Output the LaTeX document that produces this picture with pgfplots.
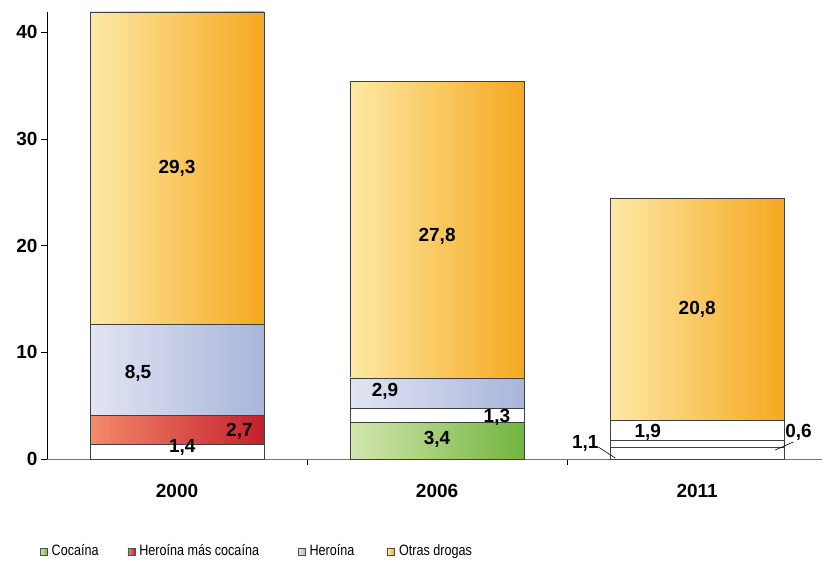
\documentclass[border=0pt]{standalone}
\usepackage{fontspec}
\setmainfont{Liberation Sans}
\usepackage{graphicx}
\usepackage{pgfplots}
\pgfplotsset{compat=1.18}

\definecolor{grnL}{HTML}{D3E6AE}
\definecolor{grnR}{HTML}{72B53E}
\definecolor{redL}{HTML}{F28A6A}
\definecolor{redM}{HTML}{E82027}
\definecolor{redR}{HTML}{C4202E}
\definecolor{bluL}{HTML}{E2E5F2}
\definecolor{bluR}{HTML}{A8B5DB}
\definecolor{orgL}{HTML}{FDE9A6}
\definecolor{orgM}{HTML}{FDC90F}
\definecolor{orgR}{HTML}{F6A81F}

\newcommand{\lbl}{\bfseries\fontsize{19}{21}\selectfont}
\newcommand{\leg}[1]{\scalebox{0.84}[1]{#1}}

% one axis per year, stacked on top of each other, so each bar gets its own shading
\pgfplotsset{
    base/.style={
        scale only axis,
        width=775pt, height=447pt,
        ybar stacked,
        bar width=174pt,
        xmin=-0.5, xmax=2.48,
        ymin=0, ymax=41.9,
        clip=false,
    },
    seg/.style={draw=black!75, line width=0.8pt},
    coca/.style={seg, left color=grnL, right color=grnR},
    hecoca/.style={seg, left color=redL, middle color=redM, right color=redR},
    hero/.style={seg, left color=bluL, right color=bluR},
    otras/.style={seg, left color=orgL, middle color=orgM, right color=orgR},
    blank/.style={seg, fill=white},
}

\begin{document}
\begin{tikzpicture}
% ---- 2000, with all axis decoration and the legend
\begin{axis}[
    base,
    axis x line*=bottom,
    axis y line*=left,
    x axis line style={-, draw=black!55, line width=0.9pt},
    y axis line style={-, draw=black, line width=0.8pt},
    xtick={0,1,2},
    xticklabels={2000,2006,2011},
    minor xtick={0.5,1.5},
    major x tick style={draw=none},
    minor x tick style={draw=black, line width=0.8pt},
    ytick={0,10,20,30,40},
    y tick style={draw=black, line width=0.8pt},
    tick align=outside,
    major tick length=6pt,
    minor tick length=6pt,
    /pgf/number format/assume math mode=true,
    tick label style={font=\lbl},
    xticklabel style={yshift=-16pt},
    legend style={
        at={(0.271,-0.206)}, anchor=center,
        draw=none, fill=none,
        legend columns=4,
        font=\fontsize{15}{17}\selectfont,
        /tikz/every odd column/.append style={column sep=2pt},
        /tikz/column 2/.style={column sep=27pt},
        /tikz/column 4/.style={column sep=37pt},
        /tikz/column 6/.style={column sep=31pt},
    },
    legend image code/.code={
        \draw[#1, draw=black!70, line width=0.6pt] (0pt,-4pt) rectangle (7pt,3pt);
    },
]
\addplot[blank, forget plot]  coordinates {(0,1.4)};
\addplot[hecoca, forget plot] coordinates {(0,2.7)};
\addplot[hero, forget plot]   coordinates {(0,8.5)};
\addplot[otras, forget plot]  coordinates {(0,29.3)};
\addlegendimage{coca}   \addlegendentry{\leg{Cocaína}}
\addlegendimage{hecoca} \addlegendentry{\leg{Heroína más cocaína}}
\addlegendimage{hero}   \addlegendentry{\leg{Heroína}}
\addlegendimage{otras}  \addlegendentry{\leg{Otras drogas}}

\coordinate (a1) at (axis cs:0,27.2);
\coordinate (a2) at (axis cs:-0.15,8.06);
\coordinate (a3) at (axis cs:0.24,2.62);
\coordinate (a4) at (axis cs:0.02,1.12);
\end{axis}

% ---- 2006
\begin{axis}[base, hide axis]
\addplot[coca]   coordinates {(1,3.4)};
\addplot[blank]  coordinates {(1,1.3)};
\addplot[hero]   coordinates {(1,2.9)};
\addplot[otras]  coordinates {(1,27.8)};
\coordinate (b1) at (axis cs:1,20.9);
\coordinate (b2) at (axis cs:0.8,6.3);
\coordinate (b3) at (axis cs:1.23,3.9);
\coordinate (b4) at (axis cs:1,1.8);
\end{axis}

% ---- 2011
\begin{axis}[base, hide axis]
\addplot[blank]  coordinates {(2,1.1)};
\addplot[blank]  coordinates {(2,0.6)};
\addplot[blank]  coordinates {(2,1.9)};
\addplot[otras]  coordinates {(2,20.8)};
\coordinate (c1) at (axis cs:2,14.05);
\coordinate (c2) at (axis cs:1.81,2.5);
\coordinate (c3) at (axis cs:1.57,1.5);
\coordinate (c4) at (axis cs:2.39,2.5);
\coordinate (d1) at (axis cs:1.62,1.12);
\coordinate (d2) at (axis cs:1.685,0.1);
\coordinate (e1) at (axis cs:2.37,1.6);
\coordinate (e2) at (axis cs:2.30,0.84);
\end{axis}

% value labels on top of everything
\begin{scope}[every node/.style={font=\lbl}]
\node at (a1) {29,3};
\node at (a2) {8,5};
\node at (a3) {2,7};
\node at (a4) {1,4};
\node at (b1) {27,8};
\node at (b2) {2,9};
\node at (b3) {1,3};
\node at (b4) {3,4};
\node at (c1) {20,8};
\node at (c2) {1,9};
\node at (c3) {1,1};
\node at (c4) {0,6};
\end{scope}
\draw[black, line width=0.6pt] (d1) -- (d2);
\draw[black, line width=0.6pt] (e1) -- (e2);

\path (current axis.south west) ++(-47pt,-102pt);
\path (current axis.north east) ++(5pt,12pt);
\end{tikzpicture}
\end{document}
